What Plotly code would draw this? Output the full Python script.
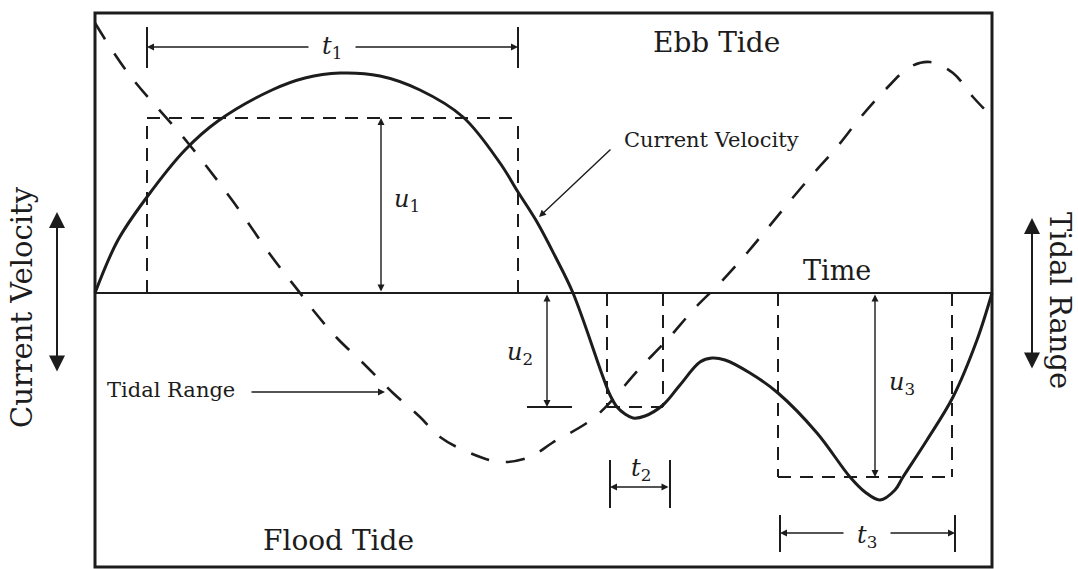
import plotly.graph_objects as go

# Schematic tidal cycle: time in arbitrary units along the frame (0..897),
# current velocity / tidal range in arbitrary units (ebb positive, flood negative).
T_END = 897
V_TOP, V_BOT = 280, -274

# Current velocity over one tidal cycle (solid curve)
t_vel = [0, 23, 52, 90, 123, 177, 210, 245, 285, 325, 368, 405, 423, 442, 460, 478,
         508, 515, 522, 530, 538, 550, 568, 585, 605, 617, 630, 655, 683, 722, 755, 770,
         785, 800, 808, 832, 858, 882, 897]
u_vel = [0, 53, 96, 143, 172, 203, 215, 220, 217, 203, 176, 130, 101, 71, 37, 0,
         -84, -102, -114, -121, -125, -123, -112, -92, -69, -65, -67, -80, -100, -140,
         -184, -199, -207, -197, -184, -147, -104, -47, 0]

# Tidal range (dashed curve)
t_tide = [0, 33, 93, 137, 177, 205, 218, 242, 268, 298, 325, 345, 375, 405, 435, 457,
          500, 545, 572, 600, 625, 652, 672, 695, 718, 742, 765, 790, 815, 835, 858,
          878, 897]
u_tide = [270, 220, 150, 93, 36, 0, -17, -45, -70, -100, -124, -144, -160, -169, -164,
          -150, -124, -75, -47, -15, 10, 40, 64, 92, 119, 146, 175, 203, 226, 231, 220,
          196, 176]

# Equivalent constant-velocity windows: start, end, mean velocity u_i
win_start = [52, 512, 683]
win_end = [423, 568, 857]
win_level = [175, -114, -184]

INK = "#1c1c1c"
FONT = "DejaVu Serif"

fig = go.Figure()

fig.add_trace(go.Scatter(x=t_tide, y=u_tide, mode="lines",
                         line=dict(color=INK, width=2.6, dash="19px,17px", shape="spline", smoothing=1.0),
                         hoverinfo="skip", showlegend=False))
fig.add_trace(go.Scatter(x=t_vel, y=u_vel, mode="lines",
                         line=dict(color=INK, width=3, shape="spline", smoothing=1.0),
                         hoverinfo="skip", showlegend=False))

shapes = []
# outer frame
shapes.append(dict(type="rect", xref="x", yref="y", x0=0, x1=T_END, y0=V_BOT, y1=V_TOP,
                   line=dict(color=INK, width=3)))
# time axis
shapes.append(dict(type="line", xref="x", yref="y", x0=0, x1=T_END, y0=0, y1=0,
                   line=dict(color=INK, width=2)))
# dashed windows
for s, e, lv in zip(win_start, win_end, win_level):
    for (x0, y0, x1, y1) in [(s, 0, s, lv), (e, 0, e, lv), (s, lv, e, lv)]:
        shapes.append(dict(type="line", xref="x", yref="y", x0=x0, y0=y0, x1=x1, y1=y1,
                           line=dict(color=INK, width=2, dash="13px,9px")))

annotations = []


def arrow(x, y, ax, ay, both=False, width=1.4, size=1.0, head=2):
    annotations.append(dict(x=x, y=y, ax=ax, ay=ay, xref="x", yref="y", axref="x", ayref="y",
                            text="", showarrow=True, arrowhead=head, startarrowhead=head,
                            arrowsize=size, startarrowsize=size, arrowwidth=width,
                            arrowcolor=INK, arrowside="end+start" if both else "end",
                            standoff=0, startstandoff=0))


def label(x, y, text, size, angle=0, color=INK):
    annotations.append(dict(x=x, y=y, xref="x", yref="y", text=text, showarrow=False,
                            textangle=angle, font=dict(family=FONT, size=size, color=color),
                            xanchor="center", yanchor="middle"))


def bar(x, y0, y1):
    shapes.append(dict(type="line", xref="x", yref="y", x0=x, x1=x, y0=y0, y1=y1,
                       line=dict(color=INK, width=2)))


# t1: duration of the ebb window
t1_y, t1_gap, t1_mid = 246, 22, 237
bar(win_start[0], 266, 225)
bar(win_end[0], 266, 225)
arrow(win_start[0], t1_y, t1_mid - t1_gap, t1_y)
arrow(win_end[0], t1_y, t1_mid + t1_gap, t1_y)
label(t1_mid, t1_y, "<i>t</i><sub>1</sub>", 24)

# u1
arrow(286, win_level[0], 286, 0, both=True)
label(312, 93, "<i>u</i><sub>1</sub>", 24)

# u2 with its reference line
arrow(452, win_level[1], 452, 0, both=True)
shapes.append(dict(type="line", xref="x", yref="y", x0=432, x1=477, y0=win_level[1], y1=win_level[1],
                   line=dict(color=INK, width=2)))
label(425, -60, "<i>u</i><sub>2</sub>", 24)

# t2
bar(win_start[1] + 3, -167, -215)
bar(win_end[1] + 7, -167, -215)
arrow(win_start[1] + 3, -194, win_end[1] + 7, -194, both=True)
label(546, -176, "<i>t</i><sub>2</sub>", 24)

# u3
arrow(780, win_level[2], 780, 0, both=True)
label(807, -90, "<i>u</i><sub>3</sub>", 24)

# t3
t3_y, t3_mid = -240, 772
bar(win_start[2] + 2, -222, -259)
bar(win_end[2] + 3, -222, -259)
arrow(win_start[2] + 2, t3_y, t3_mid - 22, t3_y)
arrow(win_end[2] + 3, t3_y, t3_mid + 22, t3_y)
label(t3_mid, -243, "<i>t</i><sub>3</sub>", 24)

# region labels
label(621, 251, "Ebb Tide", 28)
label(742, 23, "Time", 27)
label(243, -247, "Flood Tide", 28)

# curve callouts
label(616, 153, "Current Velocity", 21)
arrow(444, 76, 517, 145, width=1.4)
label(76, -97, "Tidal Range", 21)
arrow(290, -99, 155, -99, width=1.4)

# side axis descriptions
label(-73, -14, "Current Velocity", 29, angle=-90)
arrow(-38, 81, -38, -80, both=True, width=2, size=1.6)
label(965, -7, "Tidal Range", 29, angle=90)
arrow(937, 75, 937, -77, both=True, width=2, size=1.6)

fig.update_layout(
    width=1078, height=569, autosize=False,
    margin=dict(l=0, r=0, t=0, b=0),
    paper_bgcolor="white", plot_bgcolor="white",
    xaxis=dict(range=[-95, 983], visible=False, fixedrange=True),
    yaxis=dict(range=[-276, 293], visible=False, fixedrange=True),
    shapes=shapes, annotations=annotations,
)

fig.write_html("out.html")
